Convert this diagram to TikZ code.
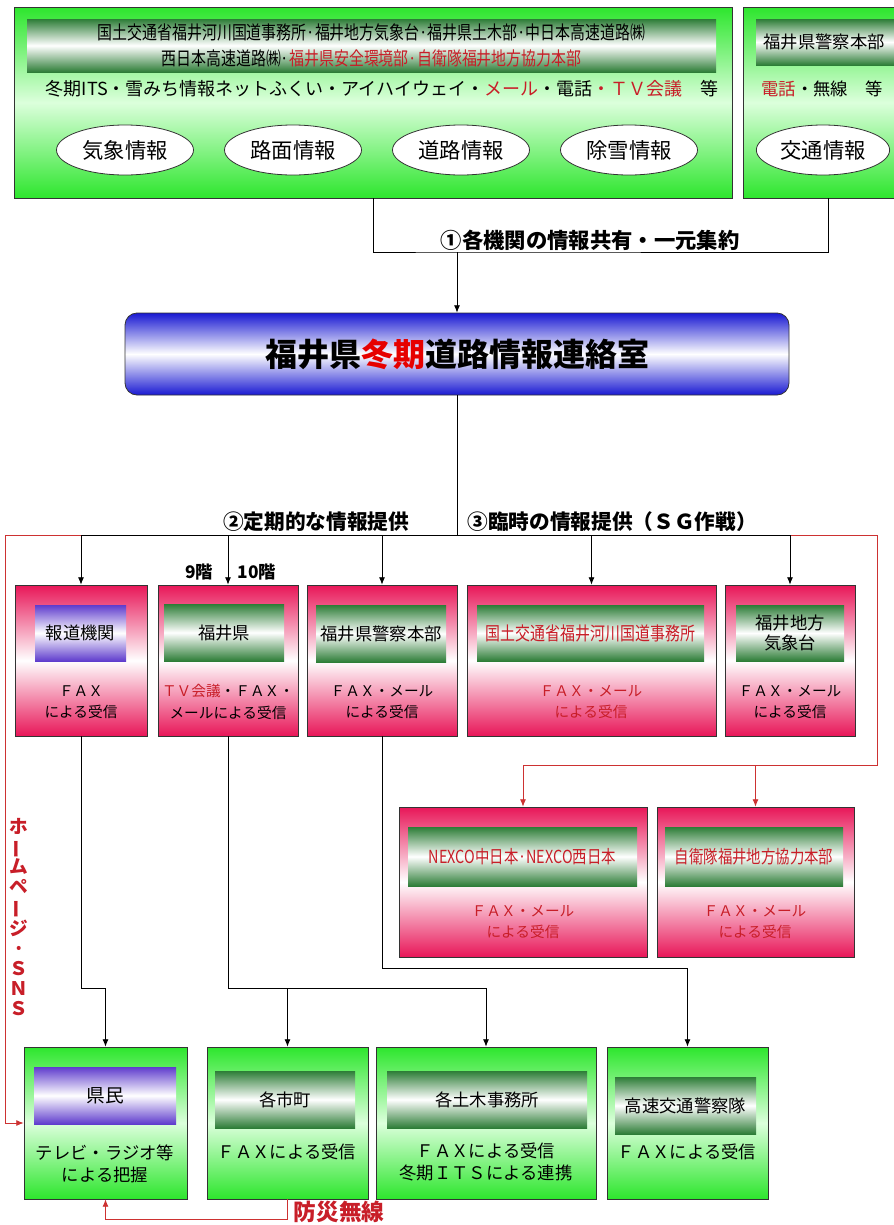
\documentclass[tikz,border=0pt]{standalone}
\usepackage{fontspec}
\usepackage{graphicx}
\setmainfont{Noto Sans CJK JP}
\newfontfamily\narrowjp[FakeStretch=0.8]{Noto Sans CJK JP}
\usetikzlibrary{fit,shapes.geometric,arrows.meta}
\definecolor{cgreen}{RGB}{45,230,45}
\definecolor{cpale}{RGB}{220,255,220}
\definecolor{cpink}{RGB}{232,22,88}
\definecolor{cbar}{RGB}{45,125,55}
\definecolor{cpurple}{RGB}{95,60,205}
\definecolor{cblue}{RGB}{25,25,210}
\definecolor{cred}{RGB}{200,30,40}
\definecolor{ctitle}{RGB}{230,0,0}
\definecolor{cline}{RGB}{205,50,50}
\begin{document}
\begin{tikzpicture} [
  x=0.75pt, y=-0.75pt,
  >={Latex[length=5.5pt,width=4.5pt]},
  outer/.style={draw=black!80, line width=0.6pt, inner sep=0pt},
  greenbox/.style={outer, top color=cgreen, bottom color=cgreen, middle color=cpale},
  pinkbox/.style={outer, top color=cpink, bottom color=cpink, middle color=white},
  greenbar/.style={inner sep=0pt, top color=cbar, bottom color=cbar, middle color=white},
  purplebar/.style={inner sep=0pt, top color=cpurple, bottom color=cpurple, middle color=white},
  orgname/.style={align=center, font=\fontsize{13}{15}\selectfont},
  orgnarrow/.style={align=center, text=cred, font=\narrowjp\fontsize{14}{16}\selectfont},
  info/.style={ellipse, draw=black!80, fill=white, minimum width=137*0.75pt, minimum height=50*0.75pt,
    font=\fontsize{16}{18}\selectfont},
  body/.style={align=center, font=\fontsize{11}{16}\selectfont},
  lowbody/.style={align=center, font=\fontsize{13}{16}\selectfont},
  tag/.style={font=\bfseries\fontsize{15.5}{18}\selectfont},
  redline/.style={draw=cline, line width=0.6pt},
  every path/.style={line width=0.6pt}]
\path[use as bounding box, fill=white] (0,0) rectangle (893,1225);
% sources
\node[greenbox, fit={(14,7) (732,198)}] (topL) {};
\node[greenbar, fit={(27,19) (716,72)}] (topLBar) {};
\node[orgname, font=\narrowjp\fontsize{14}{20}\selectfont] (topLName) at (topLBar)
  {国土交通省福井河川国道事務所·福井地方気象台·福井県土木部·中日本高速道路㈱\\
   西日本高速道路㈱·\textcolor{cred}{福井県安全環境部·自衛隊福井地方協力本部}};
\node[font=\fontsize{13.5}{16}\selectfont] (mediaL) at (382,89)
  {冬期ITS・雪みち情報ネットふくい・アイハイウェイ・\textcolor{cred}{メール}・電話\textcolor{cred}{・ＴＶ会議}　等};
\node[info] (kisho) at (125,150) {気象情報};
\node[info] (romen) at (293,150) {路面情報};
\node[info] (doro) at (461,150) {道路情報};
\node[info] (josetsu) at (629,150) {除雪情報};
\node[greenbox, fit={(743,7) (910,198)}] (topR) {};
\node[greenbar, fit={(756,19) (910,65)}] (topRBar) {};
\node[orgname] (topRName) at (824,42) {福井県警察本部};
\node[orgname] (mediaR) at (822,89) {\textcolor{cred}{電話}・無線　等};
\node[info, minimum width=133*0.75pt] (kotsu) at (823,150) {交通情報};
% center
\node[draw=black!80, rounded corners=9pt, inner sep=0pt, top color=cblue, bottom color=cblue, middle color=white,
  fit={(125,313) (789,395)}] (renraku) {};
\node[font=\bfseries\fontsize{24}{28}\selectfont] (renrakuName) at (renraku)
  {福井県\textcolor{ctitle}{冬期}道路情報連絡室};
\node[tag, font=\bfseries\fontsize{16}{18}\selectfont] (share1) at (590,240) {①各機関の情報共有・一元集約};
\node[tag] (teiki) at (316,522) {②定期的な情報提供};
\node[tag] (rinji) at (612,522) {③臨時の情報提供（ＳＧ作戦）};
\node[font=\bfseries\fontsize{13}{15}\selectfont] (f9) at (199,572) {9階};
\node[font=\bfseries\fontsize{13}{15}\selectfont] (f10) at (257,572) {10階};
% receivers
\node[pinkbox, fit={(15,585) (147,736)}] (hodo) {};
\node[purplebar, fit={(35,605) (126,661)}] (hodoBar) {};
\node[orgname] (hodoName) at (hodoBar) {報道機関};
\node[body] (hodoRecv) at (81,702) {ＦＡＸ\\による受信};
\node[pinkbox, fit={(158,585) (298,736)}] (pref) {};
\node[greenbar, fit={(164,604) (284,661)}] (prefBar) {};
\node[orgname] (prefName) at (prefBar) {福井県};
\node[body] (prefRecv) at (228,702) {\textcolor{cred}{ＴＶ会議}・ＦＡＸ・\\メールによる受信};
\node[pinkbox, fit={(307,585) (457,736)}] (police) {};
\node[greenbar, fit={(316,605) (446,662)}] (policeBar) {};
\node[orgname] (policeName) at (policeBar) {福井県警察本部};
\node[body] (policeRecv) at (382,702) {ＦＡＸ・メール\\による受信};
\node[pinkbox, fit={(467,585) (716,736)}] (kokudo) {};
\node[greenbar, fit={(477,605) (704,661)}] (kokudoBar) {};
\node[orgnarrow] (kokudoName) at (kokudoBar) {国土交通省福井河川国道事務所};
\node[body, text=cred] (kokudoRecv) at (591,702) {ＦＡＸ・メール\\による受信};
\node[pinkbox, fit={(725,585) (855,736)}] (kishodai) {};
\node[greenbar, fit={(736,605) (844,661)}] (kishodaiBar) {};
\node[orgname] (kishodaiName) at (kishodaiBar) {福井地方\\気象台};
\node[body] (kishodaiRecv) at (790,702) {ＦＡＸ・メール\\による受信};
\node[pinkbox, fit={(399,807) (647,957)}] (nexco) {};
\node[greenbar, fit={(408,827) (637,886)}] (nexcoBar) {};
\node[orgnarrow, font=\narrowjp\fontsize{13.5}{16}\selectfont] (nexcoName) at (nexcoBar) {NEXCO中日本·NEXCO西日本};
\node[body, text=cred] (nexcoRecv) at (523,922) {ＦＡＸ・メール\\による受信};
\node[pinkbox, fit={(657,807) (854,957)}] (jieitai) {};
\node[greenbar, fit={(665,827) (843,886)}] (jieitaiBar) {};
\node[orgnarrow, font=\narrowjp\fontsize{13.5}{16}\selectfont] (jieitaiName) at (jieitaiBar) {自衛隊福井地方協力本部};
\node[body, text=cred] (jieitaiRecv) at (755,922) {ＦＡＸ・メール\\による受信};
% users
\node[greenbox, fit={(24,1047) (187,1199)}] (kenmin) {};
\node[purplebar, fit={(34,1067) (176,1124)}] (kenminBar) {};
\node[orgname, font=\fontsize{14}{16}\selectfont] (kenminName) at (kenminBar) {県民};
\node[lowbody] (kenminRecv) at (105,1164) {テレビ・ラジオ等\\による把握};
\node[greenbox, fit={(207,1047) (368,1199)}] (shicho) {};
\node[greenbar, fit={(215,1071) (355,1128)}] (shichoBar) {};
\node[orgname] (shichoName) at (shichoBar) {各市町};
\node[lowbody] (shichoRecv) at (287,1152) {ＦＡＸによる受信};
\node[greenbox, fit={(376,1047) (596,1199)}] (doboku) {};
\node[greenbar, fit={(387,1071) (587,1128)}] (dobokuBar) {};
\node[orgname] (dobokuName) at (dobokuBar) {各土木事務所};
\node[lowbody] (dobokuRecv) at (486,1162) {ＦＡＸによる受信\\冬期ＩＴＳによる連携};
\node[greenbox, fit={(607,1047) (768,1199)}] (kosoku) {};
\node[greenbar, fit={(615,1077) (756,1134)}] (kosokuBar) {};
\node[orgname] (kosokuName) at (kosokuBar) {高速交通警察隊};
\node[lowbody] (kosokuRecv) at (687,1152) {ＦＡＸによる受信};
\node[align=center, text=cred, font=\bfseries\fontsize{14}{15}\selectfont] (web) at (19,917)
  {ホ\\\rotatebox[origin=c]{90}{ー}\\ム\\ペ\\\rotatebox[origin=c]{90}{ー}\\ジ\\·\\Ｓ\\Ｎ\\Ｓ};
\node[anchor=west, text=cred, font=\bfseries\fontsize{17}{19}\selectfont] (bousai) at (289,1212) {防災無線};
% connectors
\coordinate (share) at (457,252);
\coordinate (hub) at (457,535);
\coordinate (redL) at (5,535);
\coordinate (redR) at (877,535);
\coordinate (redM) at (0,765);
\coordinate (low1) at (0,988);
\coordinate (low2) at (0,968);
\coordinate (low3) at (0,1219);
\draw (topL.south -| 373,0) |- (share) -| (topR.south -| 828,0);
\draw[->] (share) -- (renraku.north);
\draw[redline] (redL) -- (redR);
\draw[redline,->] (redL) |- (kenmin.west);
\draw[redline,->] (redR) |- (nexco.north |- redM) -- (nexco.north);
\draw[redline,->] (jieitai.north |- redM) -- (jieitai.north);
\draw (renraku.south) -- (hub);
\draw (hodo.north |- hub) -- (kishodai.north |- hub);
\foreach \n in {hodo,pref,police,kokudo,kishodai}
  \draw[->] (\n.north |- hub) -- (\n.north);
\draw[->] (hodo.south) |- (kenmin.north |- low1) -- (kenmin.north);
\draw (pref.south) |- (doboku.north |- low1);
\draw[->] (shicho.north |- low1) -- (shicho.north);
\draw[->] (doboku.north |- low1) -- (doboku.north);
\draw[->] (police.south) |- (kosoku.north |- low2) -- (kosoku.north);
\draw[redline,->] (shicho.south) |- (kenmin.south |- low3) -- (kenmin.south);
\end{tikzpicture}
\end{document}
